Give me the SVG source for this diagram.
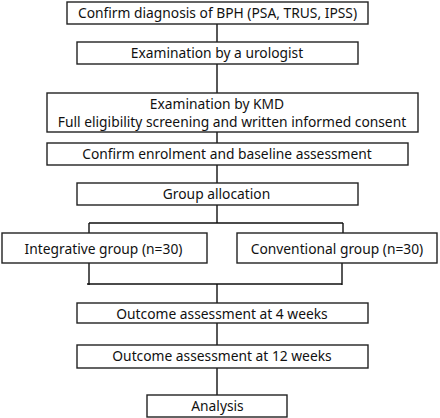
<svg xmlns="http://www.w3.org/2000/svg" width="440" height="418" viewBox="0 0 440 418">
<style>
.box{fill:#fff;stroke:#222;stroke-width:1.4}
.t{font-family:"Noto Sans","Open Sans","DejaVu Sans",sans-serif;font-size:13.8px;fill:#111;text-anchor:middle}
.c{fill:none;stroke:#111;stroke-width:1.4}
</style>
<rect width="440" height="418" fill="#fff"/>
<g id="connectors">
<path class="c" d="M217,24V42 M217,64V93 M217,132V143 M217,165V183 M217,205V223 M89,223H343 M89,223V233 M343,223V233 M89,263V285 M342,263V285 M87,284H342 M217,284V303 M217,323V345 M217,368V395"/>
</g>
<g id="n1"><rect class="box" x="67" y="2" width="301" height="22"/><text class="t" x="217.5" y="18">Confirm diagnosis of BPH (PSA, TRUS, IPSS)</text></g>
<g id="n2"><rect class="box" x="77" y="42" width="281" height="22"/><text class="t" x="217" y="58">Examination by a urologist</text></g>
<g id="n3"><rect class="box" x="47" y="93" width="371" height="39"/><text class="t" x="217" y="109">Examination by KMD</text><text class="t" x="232" y="127">Full eligibility screening and written informed consent</text></g>
<g id="n4"><rect class="box" x="47" y="143" width="361" height="22"/><text class="t" x="227" y="159">Confirm enrolment and baseline assessment</text></g>
<g id="n5"><rect class="box" x="77" y="183" width="281" height="22"/><text class="t" x="216.5" y="199">Group allocation</text></g>
<g id="n6"><rect class="box" x="2" y="233" width="205" height="30"/><text class="t" x="103.5" y="253.5">Integrative group (n=30)</text></g>
<g id="n7"><rect class="box" x="237" y="233" width="200" height="30"/><text class="t" x="337" y="253.5">Conventional group (n=30)</text></g>
<g id="n8"><rect class="box" x="77" y="303" width="291" height="20"/><text class="t" x="222" y="318.5">Outcome assessment at 4 weeks</text></g>
<g id="n9"><rect class="box" x="77" y="345" width="291" height="23"/><text class="t" x="222" y="361">Outcome assessment at 12 weeks</text></g>
<g id="n10"><rect class="box" x="147" y="395" width="140" height="22"/><text class="t" x="217.5" y="411">Analysis</text></g>
</svg>
